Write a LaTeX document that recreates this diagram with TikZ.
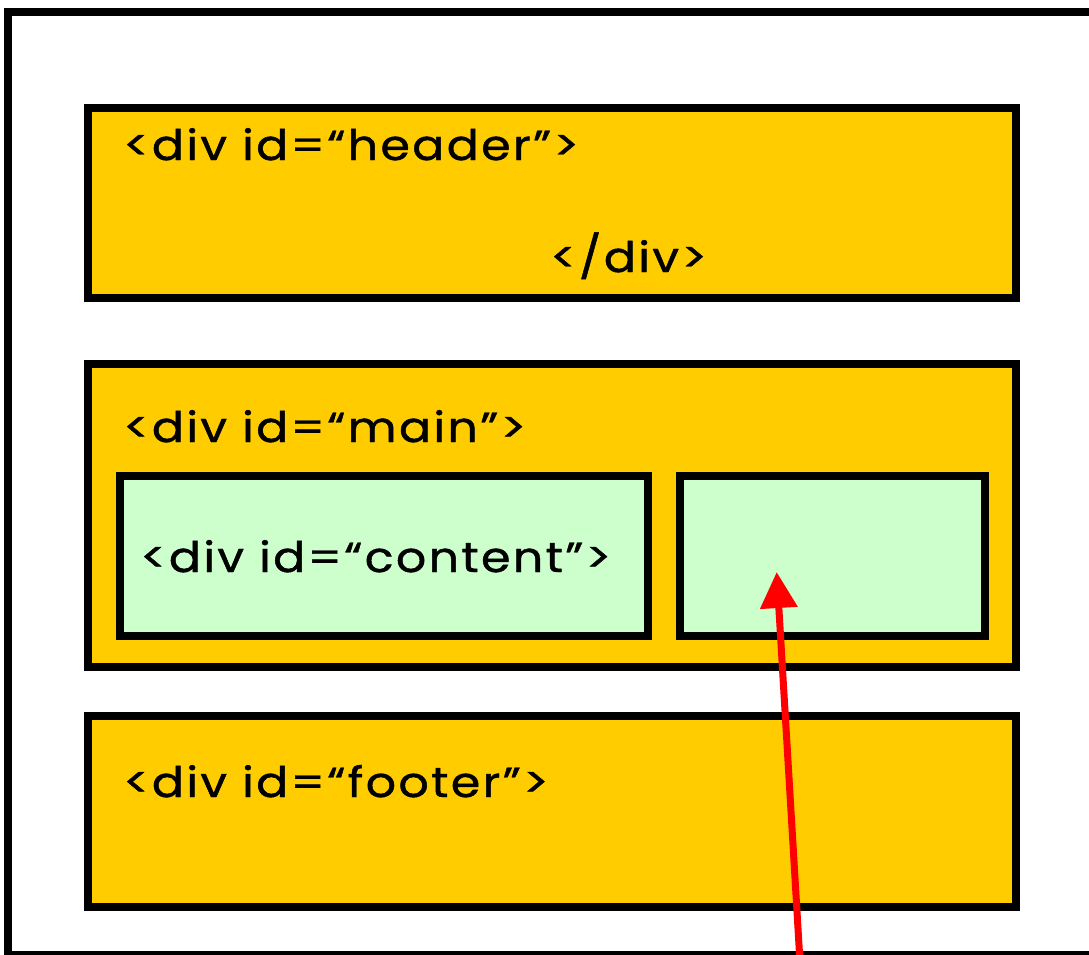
\documentclass[tikz,border=0pt]{standalone}
\usepackage{fontspec}
\setmainfont{Poppins}
\newfontfamily\lblfont[LetterSpace=5,FakeBold=1]{Poppins}
\usetikzlibrary{arrows.meta}
\definecolor{divyellow}{HTML}{FFCC00}
\definecolor{divgreen}{HTML}{CCFFCC}
\definecolor{arrowred}{HTML}{FF0000}
\begin{document}
\begin{tikzpicture}[x=1pt,y=-1pt,
  ybox/.style={draw=black, line width=8pt, fill=divyellow, anchor=north west, inner sep=0pt, outer sep=0pt},
  gbox/.style={draw=black, line width=8pt, fill=divgreen, anchor=north west, inner sep=0pt, outer sep=0pt},
  lbl/.style={anchor=base west, inner sep=0pt, xscale=1.13, font=\lblfont\fontsize{42}{44}\selectfont},
  redarrow/.style={draw=arrowred, line width=7pt, -{Triangle[length=36pt,width=36pt]}}
]
\useasboundingbox (0,0) rectangle (1089,954);
\clip (0,0) rectangle (1089,954);
\fill[white] (0,0) rectangle (1089,954);
\node[draw=black, line width=8pt, anchor=north west, inner sep=0pt, outer sep=0pt, minimum width=1100pt, minimum height=943pt] (page) at (8,12) {};
\node[ybox, minimum width=928pt, minimum height=190pt] (header) at (88,108) {};
\node[ybox, minimum width=928pt, minimum height=303pt] (main) at (88,364) {};
\node[ybox, minimum width=928pt, minimum height=191pt] (footer) at (88,716) {};
\node[gbox, minimum width=528pt, minimum height=160pt] (content) at (120,476) {};
\node[gbox, minimum width=305pt, minimum height=160pt] (side) at (680,476) {};
\node[lbl] (htext) at (123,160) {<div id=“header”>};
\node[lbl] (hclose) at (550,272) {</div>};
\node[lbl] (mtext) at (123,442) {<div id=“main”>};
\node[lbl] (ctext) at (140,572) {<div id=“content”>};
\node[lbl] (ftext) at (123,797) {<div id=“footer”>};
\coordinate (astart) at (800,962);
\coordinate (atip) at (776.7,572);
\draw[redarrow] (astart) -- (atip);
\end{tikzpicture}
\end{document}
